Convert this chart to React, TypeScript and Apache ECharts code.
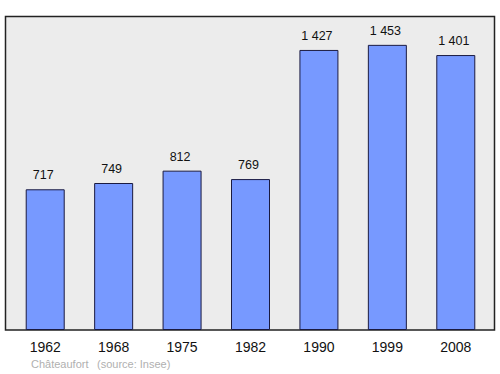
import React, { useEffect, useRef } from "react";
import * as echarts from "echarts";

const years = ["1962", "1968", "1975", "1982", "1990", "1999", "2008"];
const population = [717, 749, 812, 769, 1427, 1453, 1401];
const placeName = "Châteaufort";
const sourceText = "(source: Insee)";

const fmt = (v: number) => {
  const s = String(v);
  return s.length > 3 ? s.slice(0, s.length - 3) + " " + s.slice(-3) : s;
};

export default function App() {
  const ref = useRef<HTMLDivElement>(null);
  useEffect(() => {
    if (!ref.current) return;
    const chart = echarts.init(ref.current, undefined, { renderer: "svg" });
    chart.setOption({
      animation: false,
      textStyle: { fontFamily: "Liberation Sans, Arial, sans-serif" },
      graphic: [
        {
          type: "rect",
          z: -10,
          shape: { x: 5.5, y: 16.5, width: 489, height: 313.5 },
          style: { fill: "#ececec", stroke: "#222", lineWidth: 1.5 },
        },
        {
          type: "text",
          left: 31,
          top: 358,
          style: { text: placeName, fill: "#b0b0b0", font: "11px Liberation Sans, Arial, sans-serif" },
        },
        {
          type: "text",
          left: 97,
          top: 358,
          style: { text: sourceText, fill: "#b0b0b0", font: "11px Liberation Sans, Arial, sans-serif" },
        },
      ],
      grid: { left: 11, right: 10, top: 16, bottom: 44, containLabel: false },
      xAxis: {
        type: "category",
        data: years,
        axisLine: { show: false },
        axisTick: { show: false },
        axisLabel: { color: "#111", fontSize: 14, margin: 10 },
      },
      yAxis: {
        type: "value",
        min: 0,
        max: 1600,
        show: false,
        splitLine: { show: false },
      },
      series: [
        {
          type: "bar",
          data: population,
          barWidth: 39,
          itemStyle: { color: "#7799ff", borderColor: "#1a1a40", borderWidth: 1 },
          label: {
            show: true,
            position: "top",
            distance: 7.5,
            offset: [-2, 0],
            color: "#111",
            fontSize: 12.5,
            formatter: (p: any) => fmt(p.value),
          },
        },
      ],
    });
    return () => chart.dispose();
  }, []);
  return <div ref={ref} style={{ width: 500, height: 374, position: "absolute", left: 0, top: 0 }} />;
}
